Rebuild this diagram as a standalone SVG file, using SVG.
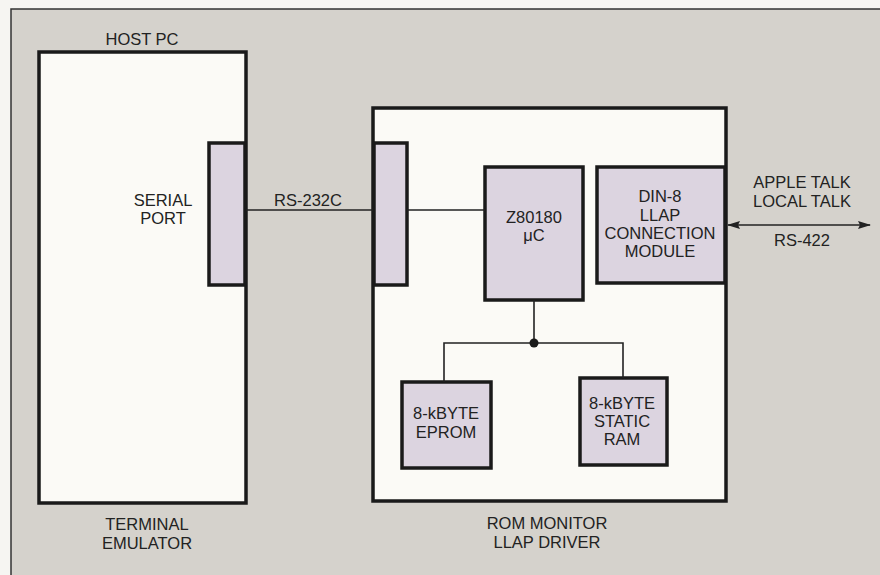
<svg xmlns="http://www.w3.org/2000/svg" width="880" height="575" viewBox="0 0 880 575">
<defs>
<style>
.t{font-family:"Liberation Sans",Arial,sans-serif;font-size:16.5px;fill:#222;text-anchor:middle}
.big{fill:#fbfaf6;stroke:#1a1a1a;stroke-width:3.5}
.chip{fill:#dcd4e0;stroke:#1a1a1a;stroke-width:3.5}
.w{fill:none;stroke:#222;stroke-width:1.6}
</style>
<marker id="ah" viewBox="0 0 13 8" refX="12" refY="4" markerWidth="13" markerHeight="8" markerUnits="userSpaceOnUse" orient="auto-start-reverse">
<path d="M0,0 L13,4 L0,8 L2,4 Z" fill="#222"/>
</marker>
</defs>
<rect x="0" y="0" width="880" height="575" fill="#f6f5f2"/>
<rect x="11" y="9" width="875" height="572" fill="#d5d2cc" stroke="#333" stroke-width="1.5"/>

<g id="host-pc">
<rect class="big" x="39" y="52" width="207" height="451"/>
<text class="t" x="142" y="45">HOST PC</text>
<text class="t" x="147" y="530">TERMINAL</text>
<text class="t" x="147" y="549">EMULATOR</text>
</g>
<g id="serial-port">
<rect class="chip" x="209" y="143" width="36" height="142"/>
<text class="t" x="163" y="206">SERIAL</text>
<text class="t" x="163" y="224">PORT</text>
</g>
<g id="rom-monitor">
<rect class="big" x="373" y="108" width="353" height="393"/>
<text class="t" x="547" y="529">ROM MONITOR</text>
<text class="t" x="547" y="548">LLAP DRIVER</text>
</g>
<g id="board-port">
<rect class="chip" x="374" y="143" width="33" height="142"/>
</g>
<g id="z80180">
<rect class="chip" x="485" y="167" width="98" height="133"/>
<text class="t" x="534" y="223">Z80180</text>
<text class="t" x="534" y="241">μC</text>
</g>
<g id="din8">
<rect class="chip" x="597" y="167" width="128" height="116"/>
<text class="t" x="660" y="202">DIN-8</text>
<text class="t" x="660" y="221">LLAP</text>
<text class="t" x="660" y="239">CONNECTION</text>
<text class="t" x="660" y="257">MODULE</text>
</g>
<g id="eprom">
<rect class="chip" x="402" y="382" width="89" height="86"/>
<text class="t" x="446" y="419">8-kBYTE</text>
<text class="t" x="446" y="438">EPROM</text>
</g>
<g id="sram">
<rect class="chip" x="580" y="378" width="87" height="87"/>
<text class="t" x="622" y="409">8-kBYTE</text>
<text class="t" x="622" y="427">STATIC</text>
<text class="t" x="622" y="445">RAM</text>
</g>

<g id="connectors">
<line class="w" x1="246" y1="210" x2="373" y2="210"/>
<text class="t" x="308" y="206">RS-232C</text>
<line class="w" x1="407" y1="210" x2="485" y2="210"/>
<polyline class="w" points="534,300 534,343"/>
<polyline class="w" points="444,382 444,343 623,343 623,378"/>
<circle cx="534" cy="343" r="4.5" fill="#1a1a1a"/>
<line class="w" x1="728" y1="225" x2="870" y2="225" marker-start="url(#ah)" marker-end="url(#ah)"/>
<text class="t" x="802" y="188">APPLE TALK</text>
<text class="t" x="802" y="207">LOCAL TALK</text>
<text class="t" x="802" y="246">RS-422</text>
</g>
</svg>
